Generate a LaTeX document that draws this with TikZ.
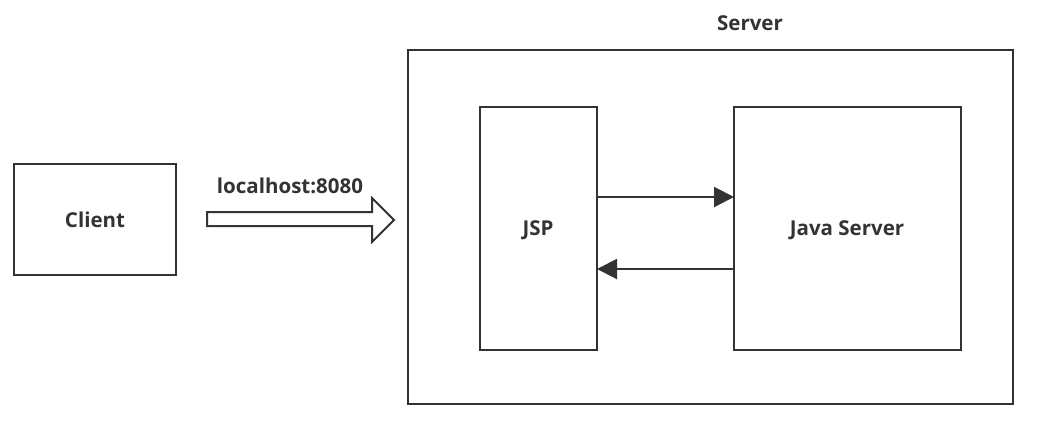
\documentclass[tikz,border=0pt]{standalone}
\usepackage{fontspec}
\setmainfont{Open Sans}
\usetikzlibrary{arrows.meta}
\definecolor{ln}{HTML}{333333}
\begin{document}
\begin{tikzpicture}[x=1pt,y=-1pt,
  box/.style={draw=ln,line width=2pt},
  lbl/.style={font=\fontsize{20.5}{24}\selectfont\bfseries,text=ln},
  link/.style={draw=ln,line width=2pt,-{Triangle[length=20pt,width=20pt]}}]
\useasboundingbox (0,0) rectangle (1057,424);
\draw[box] (14,164) rectangle (176,275);
\node[lbl] (client) at (95,220) {Client};
\draw[box] (408,50) rectangle (1013,404);
\node[lbl] (server) at (750,23) {Server};
\draw[box] (480,107) rectangle (597,350);
\node[lbl] (jsp) at (538,230) {JSP};
\draw[box] (734,107) rectangle (961,350);
\node[lbl] (java) at (847,230) {Java Server};
\coordinate (j1) at (597,197);
\coordinate (s1) at (734,197);
\coordinate (j2) at (597,269);
\coordinate (s2) at (734,269);
\draw[link] (j1) -- (s1);
\draw[link] (s2) -- (j2);
\draw[draw=ln,line width=2pt,fill=white,line join=miter]
  (207,212) -- (372,212) -- (372,198) -- (394,220) -- (372,242) -- (372,226) -- (207,226) -- cycle;
\node[lbl] (url) at (290,186) {localhost:8080};
\end{tikzpicture}
\end{document}
